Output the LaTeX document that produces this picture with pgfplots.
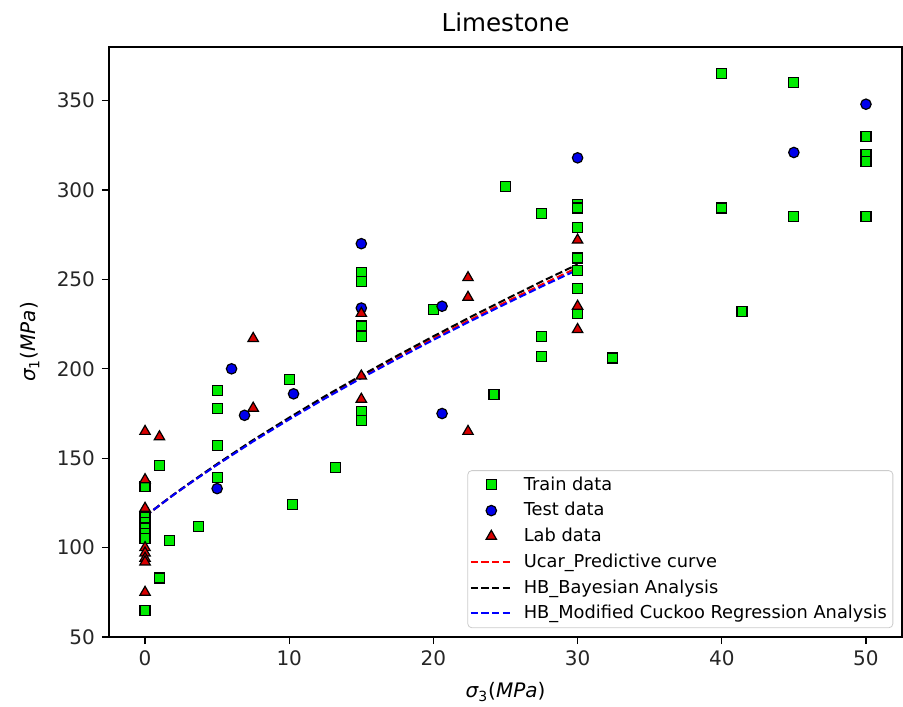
\documentclass[border=0pt]{standalone}
\usepackage{fontspec}
\setmainfont{DejaVu Sans}
\usepackage{pgfplots}
\usepackage{pgfplotstable}
\pgfplotsset{compat=1.18}

\definecolor{traingreen}{RGB}{0,235,0}
\definecolor{testblue}{RGB}{0,0,235}
\definecolor{labred}{RGB}{215,0,0}
\definecolor{legframe}{RGB}{204,204,204}

% legend handles: one centred marker, or a short dashed stroke
\pgfplotsset{
  markleg/.style={legend image code/.code={\draw[##1] plot coordinates {(10.25pt,0pt)};}},
  lineleg/.style={legend image code/.code={\draw[##1] (0pt,0pt) -- (20.5pt,0pt);}},
}

% sigma_3, sigma_1 pairs (MPa)
\pgfplotstableread{
x y
0 65
0 134
0 117
0 114
0 111
0 108
0 105
1 83
1 146
1.7 104
3.7 112
5 139
5 157
5 178
5 188
10 194
10.2 124
13.2 145
15 254
15 249
15 224
15 218
15 176
15 171
20 233
24.2 185.5
25 302
27.5 287
27.5 218
27.5 207
30 292
30 290
30 279
30 262
30 255
30 245
30 231
32.4 206
40 365
40 290
41.4 232
45 360
45 285
50 330
50 320
50 316
50 285
}\traindata

\pgfplotstableread{
x y
5 133
6 200
6.9 174
10.3 186
15 270
15 234
20.6 235
20.6 175
30 318
45 321
50 348
}\testdata

\pgfplotstableread{
x y
0 165
0 138
0 122
0 100
0 97
0 94
0 92
0 75
1 162
7.5 178
7.5 217
15 231
15 196
15 183
22.4 251
22.4 240
22.4 165
30 272
30 235
30 222
}\labdata

% failure envelopes
\pgfplotstableread{
x y
0 117.5
1 123.6
2 129.7
3 135.4
5 146.5
7.5 159.7
10 172.1
12.5 184.0
15 195.4
17.5 206.3
20 217.0
22.5 227.3
25 237.3
27.5 247.1
30 256.6
}\ucarcurve

\pgfplotstableread{
x y
0 117.5
1 123.7
2 129.8
3 135.6
5 146.8
7.5 160.2
10 172.7
12.5 184.8
15 196.3
17.5 207.4
20 218.2
22.5 228.7
25 238.8
27.5 248.8
30 258.4
}\bayescurve

\pgfplotstableread{
x y
0 117.5
1 123.6
2 129.6
3 135.3
5 146.3
7.5 159.4
10 171.7
12.5 183.5
15 194.8
17.5 205.6
20 216.2
22.5 226.4
25 236.3
27.5 246.0
30 255.4
}\cuckoocurve

\begin{document}
\begin{tikzpicture}
\begin{axis}[
  name=ax, at={(0,0)}, anchor=south west,
  scale only axis, width=396.5pt, height=295pt,
  xmin=-2.5, xmax=52.5, ymin=50, ymax=380,
  xtick={0,10,...,50}, ytick={50,100,...,350},
  tick align=outside, xtick pos=bottom, ytick pos=left,
  major tick length=3.5pt,
  tick style={black, line width=0.6pt},
  axis line style={line width=0.6pt},
  /pgf/number format/assume math mode=true,
  ticklabel style={font=\fontsize{10}{12}\selectfont, text=black!85},
  title={Limestone},
  title style={font=\fontsize{12.3}{14}\selectfont, at={(axis description cs:0.5,1)}, anchor=base, yshift=1.5pt, inner sep=0pt},
  xlabel={{\itshape σ}\textsubscript{3}({\itshape MPa})},
  xlabel style={font=\fontsize{10}{12}\selectfont, at={(axis description cs:0.5,-0.0932)}, anchor=center},
  ylabel={{\itshape σ}\textsubscript{1}({\itshape MPa})},
  ylabel style={font=\fontsize{10}{12}\selectfont, at={(axis description cs:-0.0996,0.5)}, anchor=center},
  legend cell align=left,
  legend style={at={(0.989,0.015)}, anchor=south east, draw=legframe, rounded corners=2pt,
    font=\fontsize{8.9}{10.7}\selectfont, row sep=0.6pt, inner xsep=1pt, inner ysep=1pt,
    /tikz/every odd column/.append style={column sep=3.5pt}},
]
\addplot[only marks, mark=square*, mark size=2.5pt,
  mark options={fill=traingreen, draw=black, line width=0.6pt}, markleg]
  table {\traindata};
\addlegendentry{Train data}
\addplot[only marks, mark=*, mark size=2.6pt,
  mark options={fill=testblue, draw=black, line width=0.6pt}, markleg]
  table {\testdata};
\addlegendentry{Test data}
\addplot[only marks, mark=triangle*, mark size=3pt,
  mark options={fill=labred, draw=black, line width=0.6pt}, markleg]
  table {\labdata};
\addlegendentry{Lab data}
\addplot[red, line width=1pt, dash pattern=on 3.7pt off 1.6pt, no markers, lineleg]
  table {\ucarcurve};
\addlegendentry{Ucar\_Predictive curve}
\addplot[black, line width=1pt, dash pattern=on 3.7pt off 1.6pt, no markers, lineleg]
  table {\bayescurve};
\addlegendentry{HB\_Bayesian Analysis}
\addplot[blue, line width=1pt, dash pattern=on 3.7pt off 1.6pt, no markers, lineleg]
  table {\cuckoocurve};
\addlegendentry{HB\_Modified Cuckoo Regression Analysis}
\end{axis}
\pgfresetboundingbox
\path[use as bounding box] ([xshift=-54.5pt,yshift=-34.5pt]ax.south west) rectangle ([xshift=0.5pt,yshift=23.5pt]ax.north east);
\end{tikzpicture}
\end{document}
